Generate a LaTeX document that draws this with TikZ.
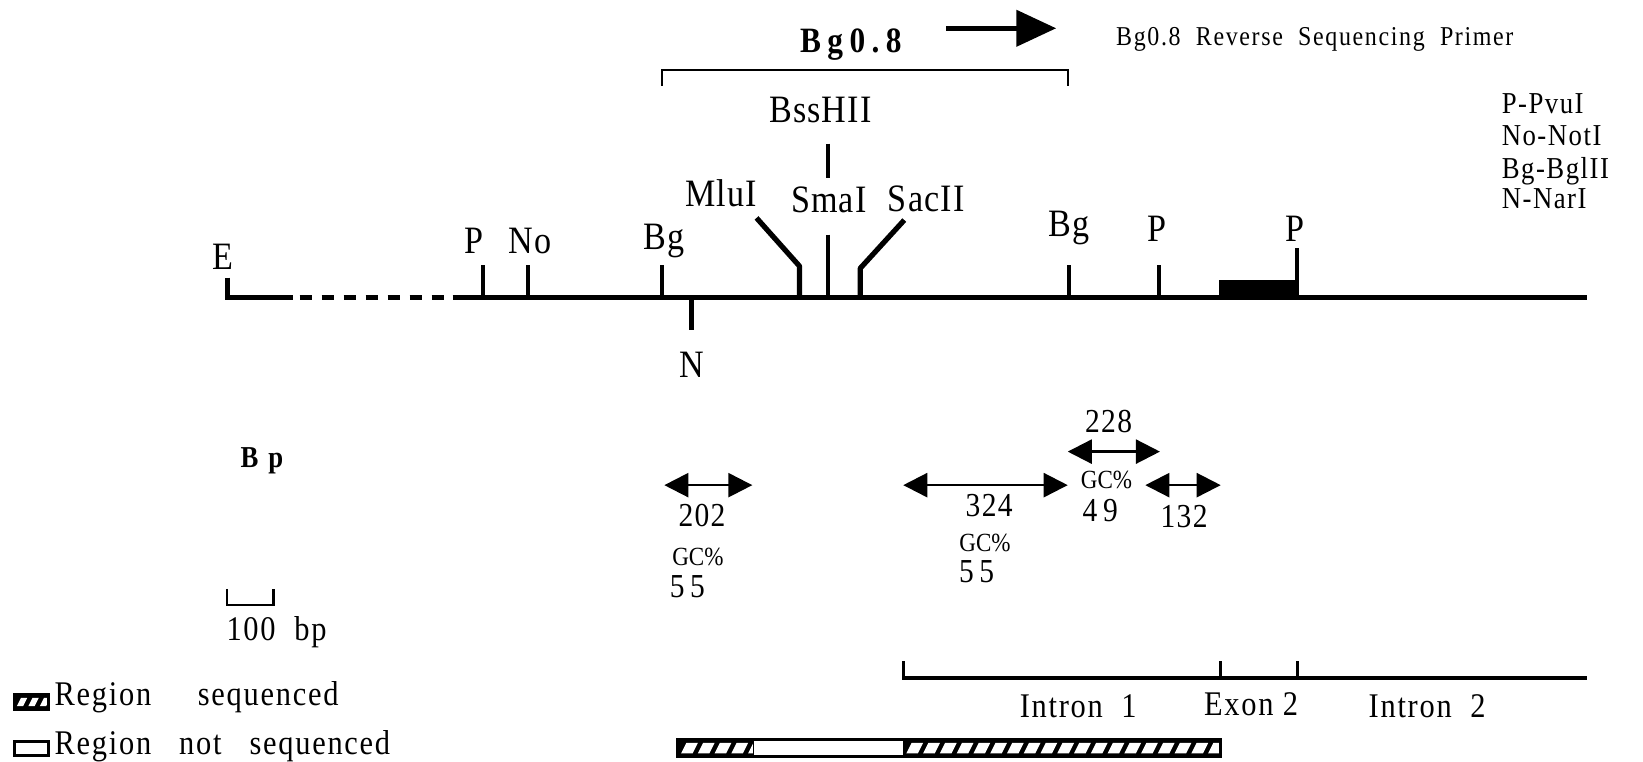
\documentclass[tikz,border=0pt]{standalone}
\usepackage{fontspec}
\setmainfont{Liberation Serif}[FakeStretch=0.88]
\usetikzlibrary{arrows.meta}
\begin{document}
\begin{tikzpicture}[x=1pt,y=-1pt,
  site/.style={line width=4.2pt},
  mainline/.style={line width=4.4pt},
  lab/.style={font=\fontsize{37}{37}\selectfont\addfontfeatures{LetterSpace=3}, inner sep=0, anchor=base},
  leg/.style={font=\fontsize{29}{29}\selectfont\addfontfeatures{LetterSpace=5}, inner sep=0, anchor=base west},
  num/.style={font=\fontsize{32}{32}\selectfont\addfontfeatures{LetterSpace=4}, inner sep=0, anchor=base},
  gc/.style={font=\fontsize{25}{25}\selectfont, inner sep=0, anchor=base},
  txt/.style={font=\fontsize{33}{33}\selectfont\addfontfeatures{LetterSpace=5}, inner sep=0, anchor=base},
  dbl/.style={line width=2.2pt, {Triangle[length=23pt,width=23pt]}-{Triangle[length=23pt,width=23pt]}},
  hatchbox/.style={line width=3pt, draw=black}
]
\useasboundingbox (0,0) rectangle (1568,727);

% ---- top: Bg0.8 and primer
\node[font=\fontsize{34}{34}\selectfont\bfseries\addfontfeatures{LetterSpace=18}, inner sep=0, anchor=base] (bg08) at (812,50) {Bg0.8};
\coordinate (pa) at (903,27);
\coordinate (pb) at (1008,27);
\draw[line width=5pt, -{Triangle[length=38pt,width=34pt]}] (pa) -- (pb);
\node[font=\fontsize{26}{26}\selectfont\addfontfeatures{LetterSpace=6}, inner sep=0, anchor=base west] (primer) at (1065,43) {Bg0.8 \ Reverse \ Sequencing \ Primer};

% bracket
\coordinate (br1) at (632,82);
\coordinate (br2) at (1019,82);
\draw[line width=2.2pt] (br1) -- ++(0,-15) -| (br2);

% ---- main line
\coordinate (E0) at (217,265);
\coordinate (E1) at (217,284);
\coordinate (s1) at (280,284);
\coordinate (d0) at (286,284);
\coordinate (d1) at (425,284);
\coordinate (m0) at (432,284);
\coordinate (m1) at (1515,284);
\draw[mainline] (E0) -- (E1) -- (s1);
\draw[mainline, dash pattern=on 12pt off 9pt] (d0) -- (d1);
\draw[mainline] (m0) -- (m1);
\node[lab] (lE) at (213,257) {E};

% sites above
\draw[site] (461,253) -- (461,284);
\node[lab] (lP1) at (452,242) {P};
\draw[site] (504,253) -- (504,284);
\node[lab] (lNo) at (506,242) {No};
\draw[site] (632,253) -- (632,284);
\node[lab] (lBg1) at (634,238) {Bg};
\draw[site] (660,284) -- (660,315);
\node[lab] (lN) at (660,360) {N};

\draw[site, line width=5pt, line join=round] (722,208) -- (763,254) -- (763,284);
\node[lab] (lMlu) at (688,197) {MluI};
\draw[site] (790,224) -- (790,284);
\node[lab] (lSma) at (791,203) {SmaI};
\draw[site, line width=5pt, line join=round] (863,210) -- (821,256) -- (821,284);
\node[lab] (lSac) at (884,202) {SacII};
\draw[site] (790,137) -- (790,170);
\node[lab] (lBss) at (783,117) {BssHII};

\draw[site] (1020,253) -- (1020,284);
\node[lab] (lBg2) at (1020,226) {Bg};
\draw[site] (1106,253) -- (1106,284);
\node[lab] (lP2) at (1104,230) {P};
\fill (1163,267) rectangle (1238,286);
\draw[site] (1238,237) -- (1238,284);
\node[lab] (lP3) at (1236,230) {P};

% legend right
\node[leg] (k1) at (1433,108) {P-PvuI};
\node[leg] (k2) at (1433,139) {No-NotI};
\node[leg] (k3) at (1433,170) {Bg-BglII};
\node[leg] (k4) at (1433,199) {N-NarI};

% ---- fragments
\node[font=\fontsize{29}{29}\selectfont\bfseries, inner sep=0, anchor=base] (Bp) at (250,446) {B\,\,p};

\coordinate (a1) at (634,463); \coordinate (a2) at (718,463);
\draw[dbl] (a1) -- (a2);
\node[num] (n202) at (670,502) {202};
\node[gc] (g202) at (666,540) {GC\%};
\node[num] (v202) at (656,570) {5\,5};

\coordinate (b1) at (862,463); \coordinate (b2) at (1019,463);
\draw[dbl] (b1) -- (b2);
\node[num] (n324) at (944,493) {324};
\node[gc] (g324) at (940,526) {GC\%};
\node[num] (v324) at (932,556) {5\,5};

\coordinate (c1) at (1019,431); \coordinate (c2) at (1107,431);
\draw[dbl] (c1) -- (c2);
\node[num] (n228) at (1058,413) {228};
\node[gc] (g228) at (1056,466) {GC\%};
\node[num] (v228) at (1050,498) {4\,9};

\coordinate (e1) at (1093,463); \coordinate (e2) at (1165,463);
\draw[dbl] (e1) -- (e2);
\node[num] (n132) at (1130,503) {132};

% scale bar
\coordinate (sc1) at (217,562); \coordinate (sc2) at (261,562);
\draw[line width=2pt] (sc1) -- ++(0,15) -| (sc2);
\node[txt, anchor=base west] (sclab) at (216,611) {100 \ bp};

% ---- exon/intron bracket
\coordinate (x0) at (862,631);
\coordinate (x1) at (1165,631);
\coordinate (x2) at (1238,631);
\coordinate (x3) at (1515,647);
\draw[line width=3.2pt] (x0) -- ++(0,16) -- (x3);
\draw[line width=3.2pt] (x1) -- ++(0,16);
\draw[line width=3.2pt] (x2) -- ++(0,16);
\node[txt] (in1) at (1029,685) {Intron \ 1};
\node[txt] (ex2) at (1194,683) {Exon 2};
\node[txt] (in2) at (1362,685) {Intron \ 2};

% ---- sequenced bar
\begin{scope}
  \clip (647,706) rectangle (719,722);
  \fill (647,706) rectangle (719,722);
  \foreach \x in {650,666,...,730} \fill[white] (\x,719) -- (\x+11,719) -- (\x+16,709) -- (\x+5,709) -- cycle;
\end{scope}
\begin{scope}
  \clip (862,706) rectangle (1165,722);
  \fill (862,706) rectangle (1165,722);
  \foreach \x in {865,881,...,1170} \fill[white] (\x,719) -- (\x+11,719) -- (\x+16,709) -- (\x+5,709) -- cycle;
\end{scope}
\draw[hatchbox] (647,706) rectangle (1165,722);
\draw[line width=1.5pt] (719,706) -- (719,722);

% legend bottom left
\begin{scope}
  \clip (14,663) rectangle (46,677);
  \fill (14,663) rectangle (46,677);
  \foreach \x in {16,27,...,50} \fill[white] (\x,674) -- (\x+6,674) -- (\x+10,666) -- (\x+4,666) -- cycle;
\end{scope}
\draw[hatchbox] (14,663) rectangle (46,677);
\node[txt, anchor=base west] (r1) at (52,673) {Region \ \ \ \ sequenced};
\draw[hatchbox] (14,708) rectangle (46,721);
\node[txt, anchor=base west] (r2) at (52,720) {Region \ \ not \ \ sequenced};
\end{tikzpicture}
\end{document}
